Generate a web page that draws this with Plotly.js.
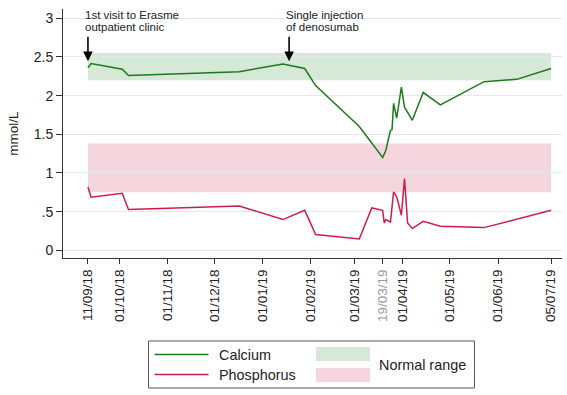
<!DOCTYPE html>
<html><head><meta charset="utf-8">
<script src="https://cdn.plot.ly/plotly-3.0.1.min.js"></script>
<style>html,body{margin:0;padding:0;background:#fff}#chart{width:567px;height:395px}</style>
</head><body><div id="chart"></div>
<script>
// ---- data ----
const caDates = ['2018-09-11','2018-09-13','2018-10-03','2018-10-07','2018-12-17','2019-01-14','2019-01-28','2019-02-04','2019-03-04','2019-03-19','2019-03-21','2019-03-24','2019-03-25','2019-03-26','2019-03-28','2019-03-31','2019-04-02','2019-04-07','2019-04-14','2019-04-25','2019-05-23','2019-06-13','2019-07-05'];
const caValues = [2.36,2.415,2.34,2.26,2.31,2.41,2.35,2.13,1.60,1.20,1.29,1.55,1.56,1.90,1.71,2.11,1.85,1.68,2.04,1.88,2.18,2.21,2.35];
const pDates = ['2018-09-11','2018-09-13','2018-10-03','2018-10-07','2018-12-17','2019-01-14','2019-01-28','2019-02-04','2019-03-04','2019-03-12','2019-03-19','2019-03-20','2019-03-21','2019-03-24','2019-03-26','2019-03-28','2019-03-31','2019-04-02','2019-04-04','2019-04-07','2019-04-14','2019-04-25','2019-05-23','2019-07-05'];
const pValues = [0.82,0.686,0.737,0.526,0.573,0.397,0.517,0.203,0.146,0.547,0.517,0.353,0.397,0.366,0.755,0.69,0.453,0.927,0.353,0.28,0.375,0.31,0.293,0.517];
const normalCa = [2.2, 2.55];
const normalP = [0.75, 1.38];
const rangeDates = ['2018-09-11', '2019-07-05'];
const tickDates = ['2018-09-11','2018-10-01','2018-11-01','2018-12-01','2019-01-01','2019-02-01','2019-03-01','2019-03-19','2019-04-01','2019-05-01','2019-06-01','2019-07-05'];
const tickLabels = ['11/09/18','01/10/18','01/11/18','01/12/18','01/01/19','01/02/19','01/03/19','19/03/19','01/04/19','01/05/19','01/06/19','05/07/19'];
const greyTick = '19/03/19';
const yTickVals = [0, 0.5, 1, 1.5, 2, 2.5, 3];
const yTickLabels = ['0', '.5', '1', '1.5', '2', '2.5', '3'];
const eventDates = ['2018-09-11', '2019-01-18'];
const eventLabels = [['1st visit to Erasme', 'outpatient clinic'], ['Single injection', 'of denosumab']];
const seriesNames = ['Calcium', 'Phosphorus'];
const rangeName = 'Normal range';

// ---- style ----
const FONT = 'Liberation Sans, Arial, sans-serif';
const GREEN = '#1c7a1c', RED = '#cc1d48';
const GREEN_BAND = '#d6e8d6', RED_BAND = '#f6d6de';
const L = 63, R = 5, T = 9, B = 137, W = 567, H = 395;
const PW = W - L - R, PH = H - T - B;
const px = x => (x - L) / PW;
const py = y => (H - B - y) / PH;

const traces = [
  {x: caDates, y: caValues, type: 'scatter', mode: 'lines', name: seriesNames[0], line: {color: GREEN, width: 1.5}, showlegend: false},
  {x: pDates, y: pValues, type: 'scatter', mode: 'lines', name: seriesNames[1], line: {color: RED, width: 1.5}, showlegend: false}
];

const shapes = [
  {type: 'rect', xref: 'x', yref: 'y', x0: rangeDates[0], x1: rangeDates[1], y0: normalCa[0], y1: normalCa[1], fillcolor: GREEN_BAND, line: {width: 0}, layer: 'below'},
  {type: 'rect', xref: 'x', yref: 'y', x0: rangeDates[0], x1: rangeDates[1], y0: normalP[0], y1: normalP[1], fillcolor: RED_BAND, line: {width: 0}, layer: 'below'},
  // legend
  {type: 'rect', xref: 'paper', yref: 'paper', x0: px(148.5), x1: px(474.5), y0: py(341), y1: py(388), fillcolor: '#fff', line: {color: '#555', width: 1}},
  {type: 'line', xref: 'paper', yref: 'paper', x0: px(154.5), x1: px(208.5), y0: py(354.5), y1: py(354.5), line: {color: GREEN, width: 1.5}},
  {type: 'line', xref: 'paper', yref: 'paper', x0: px(154.5), x1: px(208.5), y0: py(374.5), y1: py(374.5), line: {color: RED, width: 1.5}},
  {type: 'rect', xref: 'paper', yref: 'paper', x0: px(316), x1: px(370), y0: py(347), y1: py(361), fillcolor: GREEN_BAND, line: {width: 0}},
  {type: 'rect', xref: 'paper', yref: 'paper', x0: px(316), x1: px(370), y0: py(368), y1: py(382), fillcolor: RED_BAND, line: {width: 0}}
];

const annotations = [];
eventDates.forEach((d, i) => {
  eventLabels[i].forEach((t, j) => {
    annotations.push({x: d, xref: 'x', xanchor: 'left', xshift: -5, y: py(15 + 12 * j), yref: 'paper', yanchor: 'middle',
      text: t, showarrow: false, font: {family: FONT, size: 11.5, color: '#222'}});
  });
  annotations.push({x: d, y: 2.445, xref: 'x', yref: 'y', text: '', showarrow: true, ax: 0, ay: -26,
    arrowhead: 2, arrowsize: 1.2, arrowwidth: 1.6, arrowcolor: '#000', standoff: 0});
});
annotations.push({x: px(217), y: py(354.5), xref: 'paper', yref: 'paper', xanchor: 'left', yanchor: 'middle', text: seriesNames[0], showarrow: false, font: {family: FONT, size: 14.4, color: '#222'}});
annotations.push({x: px(217), y: py(375), xref: 'paper', yref: 'paper', xanchor: 'left', yanchor: 'middle', text: seriesNames[1], showarrow: false, font: {family: FONT, size: 14.4, color: '#222'}});
annotations.push({x: px(377), y: py(365), xref: 'paper', yref: 'paper', xanchor: 'left', yanchor: 'middle', text: rangeName, showarrow: false, font: {family: FONT, size: 14.4, color: '#222'}});

const layout = {
  width: W, height: H,
  margin: {l: L, r: R, t: T, b: B},
  paper_bgcolor: '#fff', plot_bgcolor: '#fff',
  font: {family: FONT, color: '#222'},
  showlegend: false,
  xaxis: {
    type: 'date', range: ['2018-08-26', '2019-07-12'],
    tickmode: 'array', tickvals: tickDates,
    ticktext: tickLabels.map(t => t === greyTick ? '<span style="color:#999">' + t + '</span>' : t),
    tickangle: -90, tickfont: {family: FONT, size: 13.5, color: '#222'},
    ticks: 'outside', ticklen: 5, tickcolor: '#333',
    showgrid: false, zeroline: false, showline: true, linecolor: '#333', linewidth: 1, mirror: false, automargin: false
  },
  yaxis: {
    range: [-0.1, 3.12],
    tickmode: 'array', tickvals: yTickVals, ticktext: yTickLabels,
    tickfont: {family: FONT, size: 14, color: '#222'},
    ticks: 'outside', ticklen: 6, tickcolor: '#333',
    showgrid: true, gridcolor: '#ddeaf4', gridwidth: 1,
    zeroline: false, showline: true, linecolor: '#333', linewidth: 1, mirror: false, automargin: false,
    title: {text: 'mmol/L', font: {family: FONT, size: 13.5, color: '#222'}, standoff: 12}
  },
  shapes: shapes,
  annotations: annotations
};

Plotly.newPlot('chart', traces, layout, {displayModeBar: false, staticPlot: true});
</script>
</body></html>
